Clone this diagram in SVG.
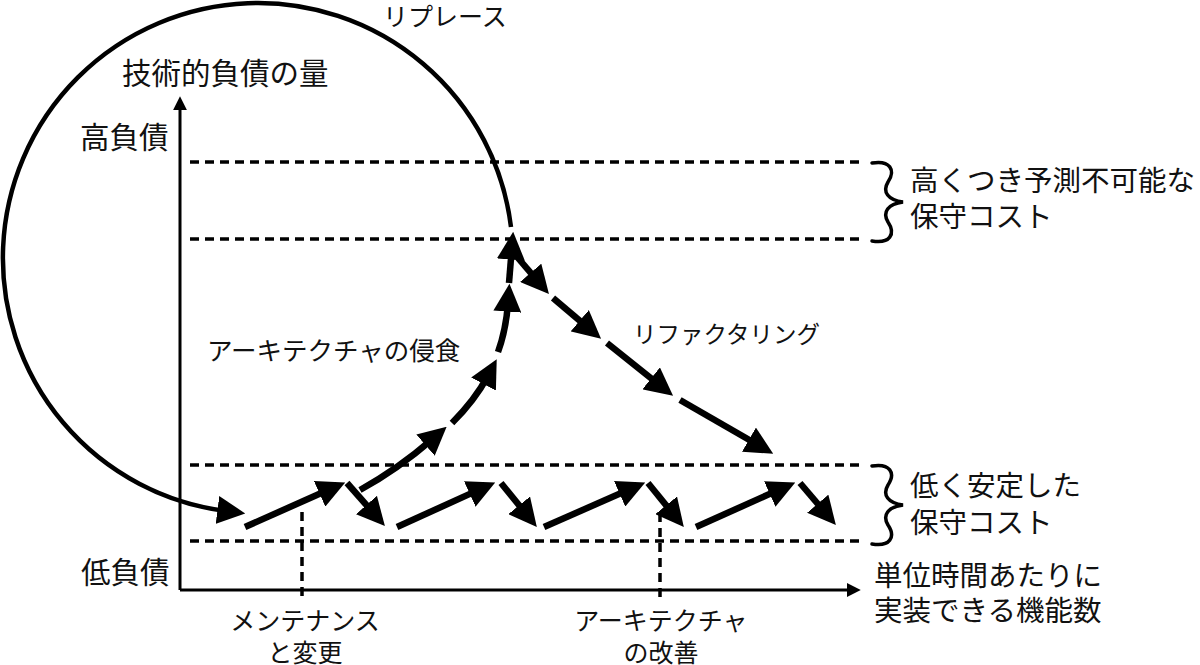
<svg xmlns="http://www.w3.org/2000/svg" width="1200" height="665" viewBox="0 0 1200 665">
<style>
text{font-family:"Noto Sans CJK JP","Noto Sans",sans-serif;fill:#111}
.t30{font-size:29.5px}
.t29{font-size:28.5px}
.t25{font-size:25px}
.mid{text-anchor:middle}
.axis{stroke:#000;stroke-width:3;fill:none}
.dash{stroke:#000;stroke-width:3.5;stroke-dasharray:9 6;fill:none}
.arw{stroke:#000;stroke-width:6.5;fill:none;marker-end:url(#ah)}
.ring{stroke:#000;stroke-width:4.5;fill:none;marker-end:url(#ah)}
.brace{stroke:#000;stroke-width:3.5;fill:none;stroke-linecap:round}
</style>
<defs>
<marker id="ah" markerUnits="userSpaceOnUse" markerWidth="28" markerHeight="28" viewBox="0 0 26 26" refX="8" refY="13" orient="auto">
<path d="M0,0 L26,13 L0,26 z" fill="#000"/>
</marker>
<marker id="sa" markerUnits="userSpaceOnUse" markerWidth="14" markerHeight="14" viewBox="0 0 13 13" refX="3" refY="6.5" orient="auto">
<path d="M0,0 L13,6.5 L0,13 z" fill="#000"/>
</marker>
</defs>
<rect width="1200" height="665" fill="#fff"/>

<g id="guides">
<path class="dash" d="M190 162H864M190 239H864M190 465H864M190 541H864"/>
<path class="dash" d="M302 512V600M660 513V600"/>
</g>

<g id="axes">
<path class="axis" d="M180 590V107" marker-end="url(#sa)"/>
<path class="axis" d="M180 590H850" marker-end="url(#sa)"/>
</g>

<g id="connectors">
<path class="ring" d="M511 227A255 255 0 1 0 226 511"/>
<path class="arw" d="M245 527L327.5 490.3"/>
<path class="arw" d="M347 483L372.1 511.5"/>
<path class="arw" d="M397 527L477.6 490.4"/>
<path class="arw" d="M501 483L524.6 512"/>
<path class="arw" d="M544 527L627.5 490.3"/>
<path class="arw" d="M648 483L671.6 512"/>
<path class="arw" d="M696 527L777.6 490.4"/>
<path class="arw" d="M800 483L823.3 510.3"/>
<path class="arw" d="M360 490Q398 469 432 439.5"/>
<path class="arw" d="M452 423Q475 400 487.6 376.4"/>
<path class="arw" d="M498 352Q506 330 508 303"/>
<path class="arw" d="M509 283L511.6 251"/>
<path class="arw" d="M518 258L536.3 279.3"/>
<path class="arw" d="M553 298L586.3 326.3"/>
<path class="arw" d="M607 343L657.9 383.7"/>
<path class="arw" d="M680 400L756.4 444"/>
</g>

<g id="braces">
<path class="brace" d="M872 163C890 160 896 170 888 182C882 192 888 200 903 202C888 204 882 212 888 222C896 234 890 244 872 241"/>
<path class="brace" d="M872 466C890 463 896 473 888 485C882 495 888 503 903 505C888 507 882 515 888 525C896 537 890 547 872 544"/>
</g>

<g id="labels">
<text class="t30" x="122" y="84">技術的負債の量</text>
<text class="t30" x="80" y="148">高負債</text>
<text class="t30" x="81" y="583">低負債</text>
<text class="t25" x="383" y="26">リプレース</text>
<text x="207" y="360" style="font-size:25.5px">アーキテクチャの侵食</text>
<text x="633" y="343" style="font-size:23.5px">リファクタリング</text>
<text class="t29" x="910" y="191">高くつき予測不可能な</text>
<text class="t29" x="910" y="227">保守コスト</text>
<text class="t29" x="910" y="496">低く安定した</text>
<text class="t29" x="910" y="533">保守コスト</text>
<text class="t29" x="874" y="586">単位時間あたりに</text>
<text class="t29" x="874" y="621">実装できる機能数</text>
<text class="t25 mid" x="305" y="630">メンテナンス</text>
<text class="t25 mid" x="305" y="662">と変更</text>
<text class="t25 mid" x="661" y="630">アーキテクチャ</text>
<text class="t25 mid" x="661" y="662">の改善</text>
</g>
</svg>
